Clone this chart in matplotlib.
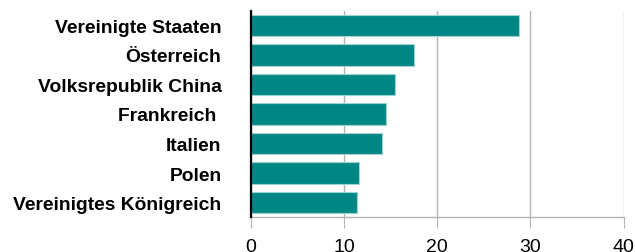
import matplotlib.pyplot as plt

countries = ['Vereinigte Staaten', 'Österreich', 'Volksrepublik China', 'Frankreich ',
             'Italien', 'Polen', 'Vereinigtes Königreich']
values = [28.8, 17.5, 15.5, 14.5, 14.1, 11.6, 11.4]
xticks = [0, 10, 20, 30, 40]

plt.rcParams['font.family'] = ['Liberation Sans', 'DejaVu Sans']

fig = plt.figure(figsize=(6.35, 2.53), dpi=100)
ax = fig.add_axes([0.3948, 0.1372, 0.5874, 0.8166])

pos = list(range(len(countries)))
ax.barh(pos, values, height=0.72, color='#008785', edgecolor='#9fd3d1',
        linewidth=0.8, zorder=3)

ax.set_ylim(6.5, -0.5)
ax.set_xlim(0, 40)
ax.set_xticks(xticks)
ax.set_xticklabels([str(t) for t in xticks], fontsize=14)
ax.set_yticks(pos)
ax.set_yticklabels(countries, fontsize=13.9, fontweight='bold')

ax.grid(axis='x', color='#b3b3b3', linewidth=1.0, zorder=0)
ax.tick_params(axis='y', length=0, pad=21)
ax.tick_params(axis='x', length=8, width=0.8, color='#b3b3b3', pad=7)

for s in ['top', 'right']:
    ax.spines[s].set_visible(False)
ax.spines['bottom'].set_color('#b3b3b3')
ax.spines['bottom'].set_linewidth(1.0)
ax.spines['left'].set_color('black')
ax.spines['left'].set_linewidth(1.6)
ax.spines['left'].set_zorder(4)

fig.savefig('out.png', dpi=100)
